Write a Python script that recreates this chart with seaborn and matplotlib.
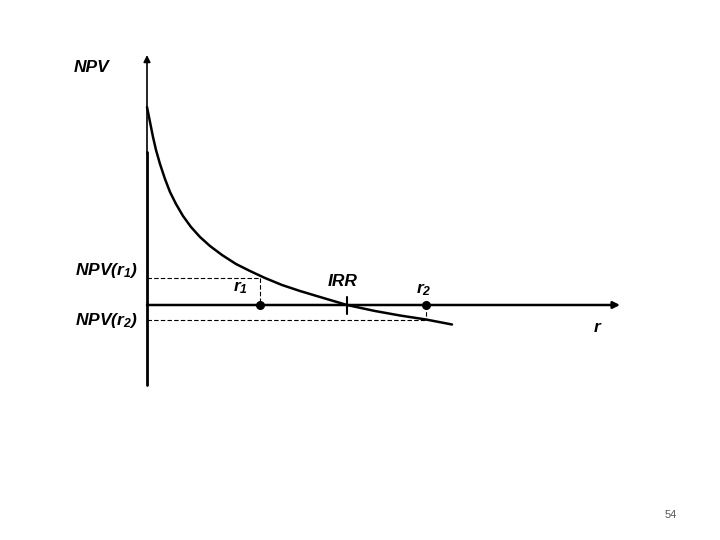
import matplotlib
matplotlib.use("Agg")
import numpy as np
import pandas as pd
import seaborn as sns
import matplotlib.pyplot as plt

# curve (x = rate, y = NPV), in picture units
rate = [147, 150, 153, 156, 160, 165, 170, 176, 183, 191, 200, 210, 222, 236,
        250, 265, 282, 300, 320, 347, 375, 400, 426, 452]
npv = [107, 122, 137, 150, 164, 179, 192, 204, 216, 227, 237, 246, 255, 264,
       271, 278, 285, 291, 297, 305, 311, 315.5, 319.5, 324.5]

origin = (147, 305)
axis_top = 55
axis_split = 152
axis_bottom = 385
axis_right = 620
r1, npv_r1 = 260, 278
r2, npv_r2 = 426, 320
irr = 347

sns.set_style("white")
plt.rcParams["font.family"] = ["Liberation Sans", "DejaVu Sans"]
plt.rcParams["mathtext.fontset"] = "custom"
plt.rcParams["mathtext.it"] = "Liberation Sans:italic:bold"
plt.rcParams["mathtext.rm"] = "Liberation Sans:italic:bold"

fig = plt.figure(figsize=(7.2, 5.4), dpi=100)
ax = fig.add_axes([0, 0, 1, 1])
ax.set_xlim(0, 720)
ax.set_ylim(540, 0)
ax.axis("off")

df = pd.DataFrame({"rate": rate, "npv": npv})
sns.lineplot(data=df, x="rate", y="npv", ax=ax, color="black", lw=1.8, sort=False)

# axes with arrows
ax.annotate("", xy=(origin[0], axis_top), xytext=(origin[0], axis_split + 2),
            arrowprops=dict(arrowstyle="-|>", color="black", lw=1.2, mutation_scale=10,
                            shrinkA=0, shrinkB=0))
ax.plot([origin[0], origin[0]], [axis_split, axis_bottom], color="black", lw=2)
ax.annotate("", xy=(axis_right, origin[1]), xytext=(origin[0], origin[1]),
            arrowprops=dict(arrowstyle="-|>", color="black", lw=1.8, mutation_scale=10,
                            shrinkA=0, shrinkB=0))

# dashed guides
ax.plot([origin[0], r1], [npv_r1, npv_r1], color="black", lw=0.8, dashes=(4, 2))
ax.plot([r1, r1], [npv_r1, origin[1]], color="black", lw=0.8, dashes=(4, 2))
ax.plot([origin[0], r2], [npv_r2, npv_r2], color="black", lw=0.8, dashes=(4, 2))
ax.plot([r2, r2], [origin[1], npv_r2], color="black", lw=0.8, dashes=(4, 2))

ax.scatter([r1, r2], [origin[1], origin[1]], s=30, color="black", zorder=5)
ax.plot([irr, irr], [297, 314], color="black", lw=1.5)

fs = 12.5
kw = dict(fontsize=fs, ha="center", va="center", color="black")
ax.text(92, 68, "NPV", style="italic", weight="bold", **kw)
ax.text(106, 271, r"$\mathit{NPV(r_1)}$", **kw)
ax.text(106, 320, r"$\mathit{NPV(r_2)}$", **kw)
ax.text(240, 288, r"$\mathit{r_1}$", **kw)
ax.text(343, 282, "IRR", style="italic", weight="bold", **kw)
ax.text(424, 290, r"$\mathit{r_2}$", **kw)
ax.text(597, 327, "r", style="italic", weight="bold", **kw)
ax.text(671, 515, "54", fontsize=8, color="#555555", ha="center", va="center")

fig.savefig("out.png", dpi=100)
